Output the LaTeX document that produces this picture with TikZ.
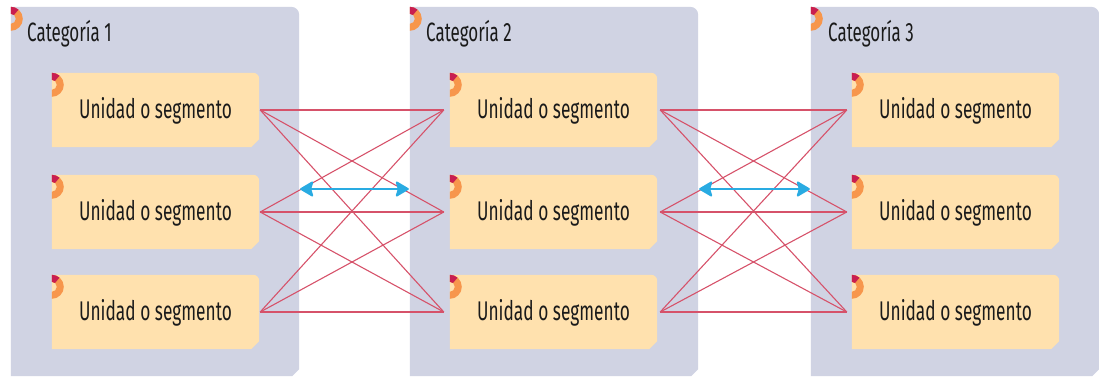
\documentclass[tikz,border=0pt]{standalone}
\usepackage{fontspec}
\setmainfont{Fira Sans}[FakeStretch=0.64]
\usetikzlibrary{calc,arrows.meta}
\pgfdeclarelayer{background}
\pgfsetlayers{background,main}
\definecolor{panelc}{RGB}{208,211,227}
\definecolor{boxc}{RGB}{255,225,174}
\definecolor{orangec}{RGB}{247,150,76}
\definecolor{crimc}{RGB}{200,30,80}
\definecolor{linkc}{RGB}{214,82,106}
\definecolor{bluec}{RGB}{41,171,226}
\definecolor{textc}{RGB}{26,26,26}
\newcommand\tabfill[4]{%
  \fill[#2] (#1.north west) -- ([xshift=-#3pt]#1.north east)
    arc[start angle=90,end angle=0,radius=#3pt]
    -- ([yshift=#4pt]#1.south east) -- ([xshift=-#4pt]#1.south east)
    -- (#1.south west) -- cycle;}
\newcommand\cornerdeco[1]{%
  \fill[orangec] (#1.north west) arc[start angle=90,end angle=-90,radius=12pt]
    -- ++(0,7) arc[start angle=-90,end angle=90,radius=5pt] -- cycle;
  \fill[crimc] (#1.north west) arc[start angle=90,end angle=50,radius=12pt]
    -- ($(#1.north west)+(0,-12)+(50:5)$) arc[start angle=50,end angle=90,radius=5pt] -- cycle;}
% arrow head: #1 tip coordinate, #2 = +1 (points left) or -1 (points right)
\newcommand\bluehead[2]{%
  \filldraw[bluec,line width=2pt,line join=round]
    (#1) -- ++(#2*11,6.5) -- ++(-#2*2,-6.5) -- ++(#2*2,-6.5) -- cycle;}
\tikzset{
  panel/.style={minimum width=288pt,minimum height=369pt,inner sep=0pt,draw=none},
  unit/.style={minimum width=207pt,minimum height=74pt,inner sep=0pt,
    text height=18pt,text depth=2pt,
    font=\fontsize{27}{30}\selectfont,text=textc},
  title/.style={anchor=base west,inner sep=0pt,font=\fontsize{26.5}{30}\selectfont,text=textc},
  link/.style={draw=linkc,line width=1.1pt},
  dbl/.style={draw=bluec,line width=1.5pt}
}
\begin{document}
\begin{tikzpicture}[x=1pt,y=1pt]
\useasboundingbox (0,0) rectangle (1099,376);
\node[panel] (p1) at (155,184.5) {};
\node[panel] (p2) at (554,184.5) {};
\node[panel] (p3) at (955,184.5) {};
\node[title] (t1) at (27,335) {Categoría 1};
\node[title] (t2) at (426,335) {Categoría 2};
\node[title] (t3) at (828,335) {Categoría 3};
\foreach \c/\x in {1/155.5,2/553.5,3/955.5}
  \foreach \r/\y in {1/266,2/164,3/64}
    \node[unit] (u\c\r) at (\x,\y) {Unidad o segmento};
\begin{pgfonlayer}{background}
  \foreach \i in {1,2,3} {\tabfill{p\i}{panelc}{8}{7}}
  \foreach \c in {1,2,3} \foreach \r in {1,2,3} {\tabfill{u\c\r}{boxc}{6}{8}}
  \foreach \i in {1,2,3} {\cornerdeco{p\i}}
  \foreach \c in {1,2,3} \foreach \r in {1,2,3} {\cornerdeco{u\c\r}}
\end{pgfonlayer}
\foreach \r in {1,2,3} {
  \coordinate (sa\r) at ($(u1\r.east)+(1,0)$);
  \coordinate (ea\r) at ($(u2\r.west)+(-6,0)$);
  \coordinate (sb\r) at ($(u2\r.east)+(3,0)$);
  \coordinate (eb\r) at ($(u3\r.west)+(-5,0)$);
}
\foreach \i in {1,2,3} \foreach \j in {1,2,3} {
  \draw[link] (sa\i) -- (ea\j);
  \draw[link] (sb\i) -- (eb\j);
}
\coordinate (arow) at (0,187);
\coordinate (al1) at ([xshift=2pt]p1.east |- arow);
\coordinate (ar1) at ([xshift=-2pt]p2.west |- arow);
\coordinate (al2) at ([xshift=2pt]p2.east |- arow);
\coordinate (ar2) at ([xshift=-2pt]p3.west |- arow);
\draw[dbl] (al1) -- (ar1);
\draw[dbl] (al2) -- (ar2);
\bluehead{al1}{1}\bluehead{ar1}{-1}
\bluehead{al2}{1}\bluehead{ar2}{-1}
\end{tikzpicture}
\end{document}
